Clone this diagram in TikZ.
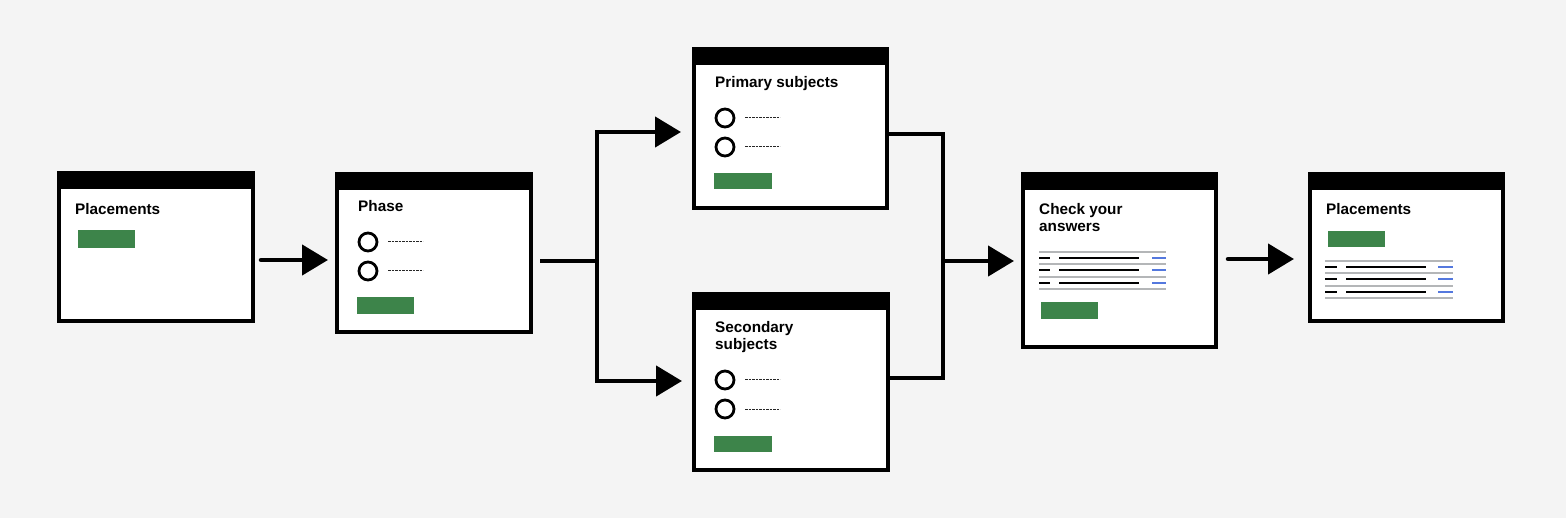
\documentclass[tikz,border=0pt]{standalone}
\usepackage{fontspec}
\setmainfont{Liberation Sans}
\usetikzlibrary{arrows.meta,calc}
\definecolor{bg}{RGB}{244,244,244}
\definecolor{btn}{RGB}{61,132,74}
\definecolor{rule}{RGB}{180,182,184}
\definecolor{lnk}{RGB}{84,120,222}
\tikzset{
  screen/.style={draw=black, fill=white, line width=4pt, inner sep=0pt, outer sep=0pt, anchor=north west, rectangle},
  ttl/.style={anchor=base west, inner sep=0pt, font=\bfseries\fontsize{15.3}{17}\selectfont},
  btnfill/.style={fill=btn},
  radio/.style={draw=black, line width=2.8pt, circle, minimum size=18pt, inner sep=0pt},
  dashln/.style={draw=black!85, line width=1pt, dash pattern=on 2.6pt off 0.9pt},
  grayln/.style={draw=rule, line width=2pt},
  blkln/.style={draw=black, line width=2pt},
  blueln/.style={draw=lnk, line width=2pt},
  wire/.style={draw=black, line width=4.5pt},
  conn/.style={wire, -{Triangle[length=26pt,width=30pt]}},
}
\begin{document}
\begin{tikzpicture}[x=1pt,y=-1pt]
\fill[bg] (0,0) rectangle (1566,518);
\useasboundingbox (0,0) rectangle (1566,518);

% screens
\node[screen, minimum width=194pt, minimum height=148pt] (p1) at (59,173) {};
\node[screen, minimum width=194pt, minimum height=158pt] (ph) at (337,174) {};
\node[screen, minimum width=193pt, minimum height=159pt] (pri) at (694,49) {};
\node[screen, minimum width=194pt, minimum height=176pt] (sec) at (694,294) {};
\node[screen, minimum width=193pt, minimum height=173pt] (cya) at (1023,174) {};
\node[screen, minimum width=193pt, minimum height=147pt] (p2) at (1310,174) {};
\foreach \n in {p1,ph,pri,sec,cya,p2}{
  \fill[black] ([shift={(-2,-2)}]\n.north west) rectangle ([shift={(2,16)}]\n.north east);
}

% titles
\node[ttl] (t1) at (75,215) {Placements};
\node[ttl] (t2) at (358,212) {Phase};
\node[ttl] (t3) at (715,88) {Primary subjects};
\node[ttl] (t4a) at (715,333) {Secondary};
\node[ttl] (t4b) at (715,350) {subjects};
\node[ttl] (t5a) at (1039,215) {Check your};
\node[ttl] (t5b) at (1039,232) {answers};
\node[ttl] (t6) at (1326,215) {Placements};

% buttons
\fill[btnfill] (78,230) rectangle (135,248);
\fill[btnfill] (357,297) rectangle (414,314);
\fill[btnfill] (714,173) rectangle (772,189);
\fill[btnfill] (714,436) rectangle (772,452);
\fill[btnfill] (1041,302) rectangle (1098,319);
\fill[btnfill] (1328,231) rectangle (1385,247);

% radios
\foreach \cx/\cy in {368/242,368/271,725/118,725/147,725/380,725/409}{
  \node[radio] at (\cx,\cy) {};
  \draw[dashln] (\cx+20,\cy) -- (\cx+55,\cy);
}

% summary lists
\foreach \y in {252,264,277,289}{\draw[grayln] (1039,\y) -- (1166,\y);}
\foreach \y in {258,270,283}{
  \draw[blkln] (1039,\y) -- (1050,\y);
  \draw[blkln] (1059,\y) -- (1139,\y);
  \draw[blueln] (1152,\y) -- (1166,\y);
}
\foreach \y in {261,273,286,298}{\draw[grayln] (1325,\y) -- (1453,\y);}
\foreach \y in {267,279,292}{
  \draw[blkln] (1325,\y) -- (1337,\y);
  \draw[blkln] (1346,\y) -- (1426,\y);
  \draw[blueln] (1438,\y) -- (1453,\y);
}

% connectors
\coordinate (split) at (597,261);
\coordinate (merge) at (943,261);
\draw[conn, line cap=round] ($(p1.east|-{(0,260)})+(8,0)$) -- ($(ph.west|-{(0,260)})+(-9,0)$);
\draw[wire] ($(ph.east|-{(0,261)})+(9,0)$) -- (split);
\draw[conn] (split) |- ($(pri.west|-{(0,132)})+(-13,0)$);
\draw[conn] (split) |- ($(sec.west|-{(0,381)})+(-12,0)$);
\draw[wire] (pri.east|-{(0,134)}) -| (merge);
\draw[wire] (sec.east|-{(0,378)}) -| (merge);
\draw[conn] (merge) -- ($(cya.west|-{(0,261)})+(-9,0)$);
\draw[conn, line cap=round] ($(cya.east|-{(0,259)})+(12,0)$) -- ($(p2.west|-{(0,259)})+(-16,0)$);
\end{tikzpicture}
\end{document}
